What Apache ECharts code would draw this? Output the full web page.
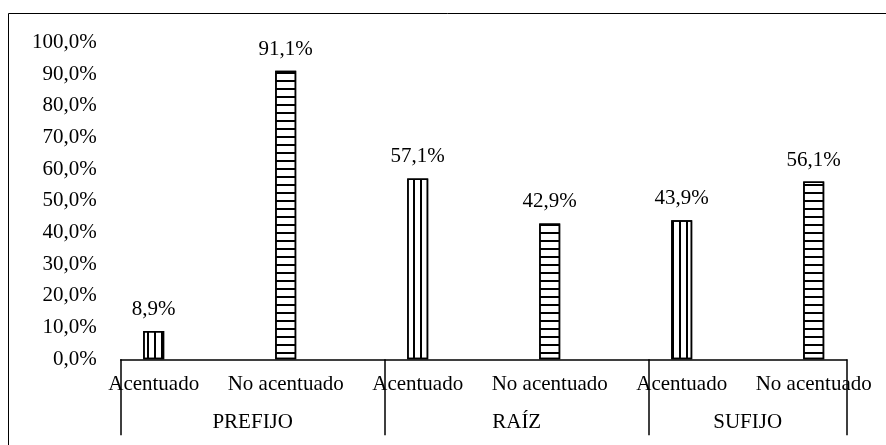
<!DOCTYPE html>
<html>
<head>
<meta charset="utf-8">
<script src="https://cdn.jsdelivr.net/npm/echarts@6/dist/echarts.min.js"></script>
<style>
html,body{margin:0;padding:0;background:#fff;}
#chart{width:886px;height:445px;}
</style>
</head>
<body>
<div id="chart"></div>
<script>
// ---- data ----
const categories = ['Acentuado', 'No acentuado', 'Acentuado', 'No acentuado', 'Acentuado', 'No acentuado'];
const groups = ['PREFIJO', 'RAÍZ', 'SUFIJO'];
const values = [8.9, 91.1, 57.1, 42.9, 43.9, 56.1];
const yTicks = [0, 10, 20, 30, 40, 50, 60, 70, 80, 90, 100];

// ---- layout helpers ----
const FONT = '"Liberation Serif", "Times New Roman", serif';
const FS = 21;
const xMin = -0.25, xMax = 5.25;
const perGroup = 2;
const groupBounds = [];
for (let g = 0; g <= groups.length; g++) groupBounds.push(Math.min(g * perGroup + xMin, xMax));
const groupCenters = groups.map((_, g) => (groupBounds[g] + groupBounds[g + 1]) / 2);
const catPositions = categories.map((_, i) => i);

const fmtPct = v => v.toFixed(1).replace('.', ',') + '%';

const decalVertical = { symbol: 'rect', symbolSize: 1, color: '#000', dashArrayX: [2, 5], dashArrayY: [1, 0], rotation: 0 };
const decalHorizontal = { symbol: 'rect', symbolSize: 1, color: '#000', dashArrayX: [1, 0], dashArrayY: [2, 6], rotation: 0 };

const barData = values.map((v, i) => ({
  value: [catPositions[i], v],
  itemStyle: { decal: categories[i] === 'Acentuado' ? decalVertical : decalHorizontal }
}));

const chart = echarts.init(document.getElementById('chart'), null, { renderer: 'canvas' });
chart.setOption({
  animation: false,
  backgroundColor: '#fff',
  textStyle: { fontFamily: FONT, color: '#000' },
  grid: { left: 120.7, right: 39.3, top: 42.5, bottom: 85.7, containLabel: false },
  xAxis: [
    {
      type: 'value', min: xMin, max: xMax, position: 'bottom',
      axisLine: { show: true, onZero: false, lineStyle: { color: '#000', width: 1.5 } },
      axisTick: { show: true, inside: false, length: 76, customValues: groupBounds, lineStyle: { color: '#000', width: 1.5 } },
      splitLine: { show: false },
      axisLabel: {
        show: true, customValues: catPositions, margin: 15,
        fontFamily: FONT, fontSize: FS, color: '#000',
        formatter: v => categories[Math.round(v)] || ''
      }
    },
    {
      type: 'value', min: xMin, max: xMax, position: 'bottom',
      axisLine: { show: false }, axisTick: { show: false }, splitLine: { show: false },
      axisLabel: {
        show: true, customValues: groupCenters, margin: 53,
        fontFamily: FONT, fontSize: FS, color: '#000',
        formatter: v => {
          const idx = groupCenters.findIndex(c => Math.abs(c - v) < 1e-6);
          return idx >= 0 ? groups[idx] : '';
        }
      }
    }
  ],
  yAxis: {
    type: 'value', min: yTicks[0], max: yTicks[yTicks.length - 1], interval: yTicks[1] - yTicks[0],
    axisLine: { show: false }, axisTick: { show: false }, splitLine: { show: false },
    axisLabel: { margin: 24, fontFamily: FONT, fontSize: FS, color: '#000', formatter: v => fmtPct(v) }
  },
  graphic: [
    { type: 'rect', silent: true, z: 100, shape: { x: 8.5, y: 13.5, width: 900, height: 450 },
      style: { fill: 'none', stroke: '#000', lineWidth: 1 } }
  ],
  series: [
    {
      type: 'bar', xAxisIndex: 0, yAxisIndex: 0,
      barWidth: 21,
      data: barData,
      itemStyle: { color: '#fff', borderColor: '#000', borderWidth: 1.5 },
      label: {
        show: true, position: 'top', distance: 11,
        fontFamily: FONT, fontSize: FS, color: '#000',
        formatter: p => fmtPct(p.value[1])
      }
    }
  ]
});
</script>
</body>
</html>
